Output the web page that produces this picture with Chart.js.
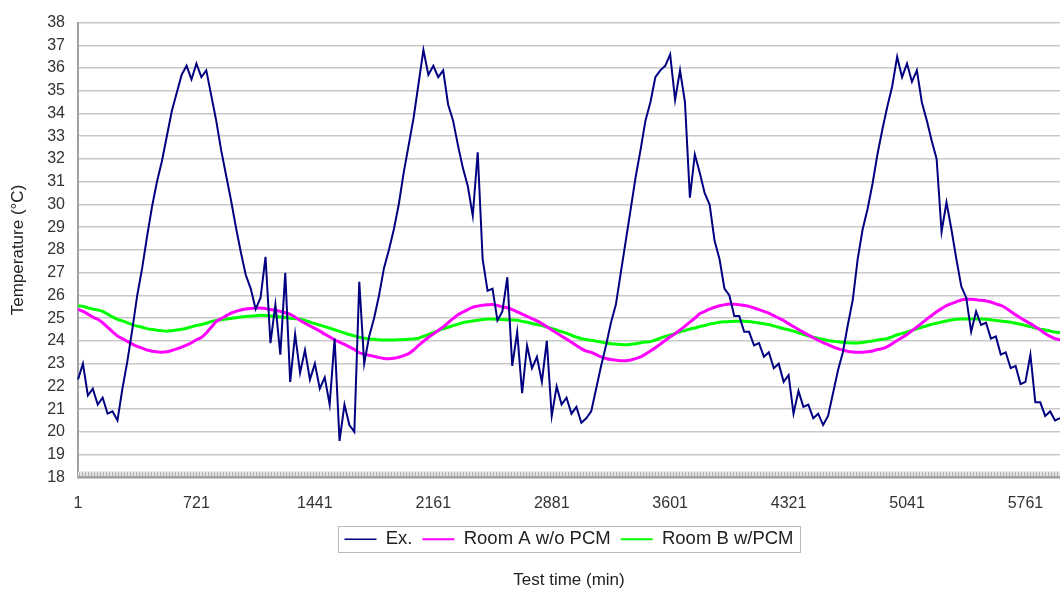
<!DOCTYPE html>
<html>
<head>
<meta charset="utf-8">
<script src="https://cdn.jsdelivr.net/npm/chart.js@4.4.1/dist/chart.umd.min.js"></script>
<style>
  html, body { margin: 0; padding: 0; background: #fff; }
  #chart { display: block; }
</style>
</head>
<body>
<canvas id="chart" width="1060" height="592"></canvas>
<script>
/* one reading every 30 min */
var sampleStep = 30;
var tickMinutes = [1, 721, 1441, 2161, 2881, 3601, 4321, 5041, 5761];

var exTemp = [
  22.3, 23.0, 21.6, 21.9, 21.2, 21.5, 20.8, 20.9, 20.5, 21.9,
  23.1, 24.5, 26.0, 27.2, 28.6, 29.9, 31.0, 31.9, 33.0, 34.1,
  34.9, 35.7, 36.1, 35.5, 36.2, 35.6, 35.9, 34.8, 33.7, 32.4,
  31.3, 30.2, 29.0, 27.9, 26.9, 26.3, 25.4, 25.9, 27.7, 23.9,
  25.6, 23.4, 27.0, 22.2, 24.3, 22.6, 23.6, 22.3, 23.0, 21.9,
  22.4, 21.2, 24.1, 19.6, 21.2, 20.3, 20.0, 26.6, 23.0, 24.2,
  25.0, 26.0, 27.2, 28.0, 28.9, 30.0, 31.4, 32.6, 33.8, 35.3,
  36.8, 35.7, 36.1, 35.6, 35.9, 34.4, 33.7, 32.6, 31.6, 30.8,
  29.5, 32.3, 27.6, 26.2, 26.3, 24.9, 25.3, 26.8, 22.9, 24.4,
  21.7, 23.8, 22.8, 23.3, 22.2, 24.0, 20.7, 22.0, 21.2, 21.5,
  20.8, 21.1, 20.4, 20.6, 20.9, 21.9, 22.9, 23.8, 24.8, 25.6,
  27.0, 28.4, 29.8, 31.2, 32.4, 33.7, 34.5, 35.6, 35.9, 36.1,
  36.6, 34.6, 35.9, 34.5, 30.3, 32.2, 31.4, 30.5, 30.0, 28.4,
  27.6, 26.3, 26.0, 25.1, 25.1, 24.4, 24.4, 23.8, 23.9, 23.3,
  23.5, 22.8, 23.0, 22.2, 22.5, 20.8, 21.8, 21.1, 21.2, 20.6,
  20.8, 20.3, 20.7, 21.7, 22.7, 23.5, 24.7, 25.8, 27.6, 28.9,
  29.8, 30.9, 32.2, 33.3, 34.3, 35.2, 36.5, 35.6, 36.2, 35.4,
  35.9, 34.5, 33.7, 32.8, 32.0, 28.8, 30.1, 28.9, 27.6, 26.4,
  25.9, 24.4, 25.3, 24.7, 24.8, 24.1, 24.2, 23.4, 23.5, 22.8,
  22.9, 22.1, 22.2, 23.4, 21.3, 21.3, 20.7, 20.9, 20.5, 20.6
];

var roomA = [
  25.40, 25.30, 25.18, 25.05, 24.95, 24.80, 24.60, 24.40, 24.22, 24.10,
  23.98, 23.86, 23.76, 23.68, 23.60, 23.55, 23.52, 23.50, 23.52, 23.58,
  23.65, 23.73, 23.82, 23.92, 24.05, 24.15, 24.35, 24.60, 24.85, 24.98,
  25.10, 25.22, 25.30, 25.36, 25.40, 25.43, 25.45, 25.45, 25.42, 25.38,
  25.35, 25.30, 25.24, 25.17, 25.05, 24.90, 24.78, 24.66, 24.55, 24.43,
  24.30, 24.18, 24.05, 23.95, 23.85, 23.74, 23.62, 23.48, 23.42, 23.37,
  23.32, 23.27, 23.23, 23.22, 23.24, 23.28, 23.35, 23.44, 23.60, 23.80,
  23.98, 24.15, 24.30, 24.46, 24.62, 24.80, 24.98, 25.15, 25.27, 25.38,
  25.48, 25.53, 25.57, 25.59, 25.60, 25.56, 25.50, 25.46, 25.38, 25.28,
  25.18, 25.08, 24.98, 24.88, 24.76, 24.62, 24.48, 24.35, 24.21, 24.08,
  23.94, 23.80, 23.66, 23.55, 23.50, 23.40, 23.30, 23.23, 23.18, 23.15,
  23.13, 23.13, 23.16, 23.22, 23.30, 23.42, 23.56, 23.70, 23.86, 24.02,
  24.18, 24.32, 24.48, 24.65, 24.83, 25.00, 25.20, 25.30, 25.40, 25.48,
  25.55, 25.59, 25.62, 25.61, 25.59, 25.56, 25.52, 25.45, 25.38, 25.30,
  25.22, 25.11, 25.00, 24.90, 24.76, 24.63, 24.50, 24.38, 24.26, 24.14,
  24.03, 23.93, 23.84, 23.74, 23.66, 23.60, 23.54, 23.51, 23.50, 23.50,
  23.52, 23.56, 23.62, 23.66, 23.75, 23.88, 24.02, 24.15, 24.28, 24.45,
  24.61, 24.78, 24.96, 25.12, 25.28, 25.42, 25.55, 25.64, 25.72, 25.80,
  25.83, 25.83, 25.81, 25.79, 25.76, 25.71, 25.63, 25.56, 25.45, 25.30,
  25.15, 25.01, 24.88, 24.76, 24.62, 24.48, 24.33, 24.20, 24.10, 24.05
];

var roomB = [
  25.55, 25.52, 25.46, 25.40, 25.36, 25.30, 25.18, 25.06, 24.95, 24.88,
  24.80, 24.72, 24.65, 24.60, 24.54, 24.50, 24.47, 24.45, 24.43, 24.45,
  24.48, 24.51, 24.56, 24.62, 24.68, 24.72, 24.78, 24.85, 24.90, 24.93,
  24.96, 24.99, 25.02, 25.05, 25.07, 25.09, 25.11, 25.13, 25.12, 25.10,
  25.08, 25.05, 25.03, 25.00, 24.98, 24.96, 24.90, 24.83, 24.76, 24.70,
  24.63, 24.56, 24.49, 24.42, 24.35, 24.28, 24.22, 24.16, 24.12, 24.09,
  24.07, 24.05, 24.04, 24.04, 24.04, 24.05, 24.06, 24.07, 24.09, 24.12,
  24.20, 24.28, 24.36, 24.45, 24.53, 24.60, 24.67, 24.74, 24.80, 24.84,
  24.88, 24.91, 24.94, 24.96, 24.96, 24.95, 24.94, 24.93, 24.92, 24.91,
  24.86, 24.82, 24.77, 24.72, 24.68, 24.61, 24.55, 24.48, 24.41, 24.34,
  24.25, 24.17, 24.10, 24.06, 24.03, 23.99, 23.95, 23.91, 23.88, 23.86,
  23.84, 23.83, 23.85, 23.88, 23.92, 23.95, 23.97, 24.04, 24.12, 24.20,
  24.26, 24.33, 24.40, 24.46, 24.52, 24.57, 24.63, 24.68, 24.74, 24.78,
  24.82, 24.84, 24.85, 24.86, 24.87, 24.87, 24.85, 24.82, 24.79, 24.76,
  24.72, 24.66, 24.60, 24.54, 24.49, 24.43, 24.36, 24.29, 24.22, 24.16,
  24.11, 24.06, 24.02, 23.99, 23.96, 23.94, 23.92, 23.91, 23.91, 23.93,
  23.97, 24.00, 24.04, 24.07, 24.10, 24.18, 24.27, 24.33, 24.39, 24.46,
  24.53, 24.60, 24.67, 24.73, 24.78, 24.83, 24.88, 24.92, 24.95, 24.96,
  24.96, 24.96, 24.96, 24.96, 24.95, 24.93, 24.90, 24.88, 24.85, 24.82,
  24.78, 24.73, 24.68, 24.63, 24.57, 24.52, 24.48, 24.43, 24.39, 24.36
];

var minutes = exTemp.map(function (v, i) { return 1 + i * sampleStep; });

Chart.defaults.font.family = '"Liberation Sans", Arial, Helvetica, sans-serif';
Chart.defaults.color = "#333";

var frame = {
  id: "frame",
  beforeDatasetsDraw: function (chart) {
    var a = chart.chartArea, ctx = chart.ctx;
    ctx.save();
    // dense category tick marks along the bottom (Excel style)
    ctx.fillStyle = "#e4e4e4";
    ctx.fillRect(a.left, a.bottom - 6, a.right - a.left, 6);
    ctx.strokeStyle = "#aaa";
    ctx.lineWidth = 1;
    ctx.beginPath();
    for (var x = a.left + 1.5; x < a.right; x += 3) {
      ctx.moveTo(x, a.bottom - 5);
      ctx.lineTo(x, a.bottom - 1);
    }
    ctx.stroke();
    ctx.strokeStyle = "#999";
    ctx.lineWidth = 2;
    ctx.beginPath();
    ctx.moveTo(a.left, a.bottom);
    ctx.lineTo(a.right, a.bottom);
    ctx.stroke();
    ctx.restore();
  },
  afterDraw: function (chart) {
    var boxes = chart.legend.legendHitBoxes;
    if (!boxes || !boxes.length) return;
    var l = Infinity, r = -Infinity, t = Infinity, b = -Infinity;
    boxes.forEach(function (h) {
      l = Math.min(l, h.left); r = Math.max(r, h.left + h.width);
      t = Math.min(t, h.top); b = Math.max(b, h.top + h.height);
    });
    var ctx = chart.ctx;
    ctx.save();
    ctx.strokeStyle = "#bbb";
    ctx.lineWidth = 1;
    ctx.strokeRect(Math.round(l - 6) + 0.5, Math.round(t - 4) + 0.5, Math.round(r - l + 13), Math.round(b - t + 7));
    ctx.restore();
  }
};

var canvasElement = document.getElementById("chart");

var config = {
  type: "line",
  data: {
    labels: minutes,
    datasets: [
      {
        label: "Ex.",
        data: exTemp,
        borderColor: "#000080",
        backgroundColor: "#000080",
        borderWidth: 2,
        pointRadius: 0,
        tension: 0
      },
      {
        label: "Room A w/o PCM",
        data: roomA,
        borderColor: "#ff00ff",
        backgroundColor: "#ff00ff",
        borderWidth: 3,
        pointRadius: 0,
        tension: 0.3
      },
      {
        label: "Room B w/PCM",
        data: roomB,
        borderColor: "#00ff00",
        backgroundColor: "#00ff00",
        borderWidth: 3,
        pointRadius: 0,
        tension: 0.3
      }
    ]
  },
  options: {
    responsive: false,
    animation: false,
    devicePixelRatio: 1,
    layout: { padding: { top: 17, right: 0, bottom: 0, left: 0 } },
    scales: {
      x: {
        type: "category",
        offset: false,
        grid: { display: false, drawTicks: false },
        border: { display: false },
        ticks: {
          autoSkip: false,
          maxRotation: 0,
          padding: 17,
          font: { size: 16 },
          color: "#333",
          callback: function (value, index) {
            var m = minutes[index];
            return tickMinutes.indexOf(m) >= 0 ? String(m) : "";
          }
        },
        afterFit: function (scale) {
          scale.height = 42.75;
          scale.paddingRight = 0;
          scale.paddingLeft = 0;
        }
      },
      y: {
        min: 18,
        max: 38,
        grid: { color: "#c8c8c8", lineWidth: 1.6, drawTicks: false },
        border: { display: true, color: "#a0a0a0", width: 2 },
        ticks: { stepSize: 1, padding: 13, font: { size: 16 }, color: "#333" },
        title: {
          display: true,
          text: "Temperature (°C)",
          font: { size: 17 },
          color: "#222",
          padding: { top: 8, bottom: 0 }
        },
        afterFit: function (scale) { scale.width = 78; }
      }
    },
    plugins: {
      legend: {
        position: "bottom",
        fullSize: false,
        labels: {
          usePointStyle: true,
          pointStyle: "line",
          pointStyleWidth: 32,
          padding: 10,
          font: { size: 18.5 },
          color: "#222",
          generateLabels: function (chart) {
            var items = Chart.defaults.plugins.legend.labels.generateLabels(chart);
            items.forEach(function (it, i) { it.lineWidth = i === 0 ? 1.5 : 2; });
            return items;
          }
        }
      },
      title: {
        display: true,
        position: "bottom",
        fullSize: false,
        text: "Test time (min)",
        font: { size: 17, weight: "normal" },
        color: "#222",
        padding: { top: 12, bottom: 1 }
      },
      tooltip: { enabled: false }
    }
  },
  plugins: [frame]
};

var chart = new Chart(canvasElement, config);
</script>
</body>
</html>
